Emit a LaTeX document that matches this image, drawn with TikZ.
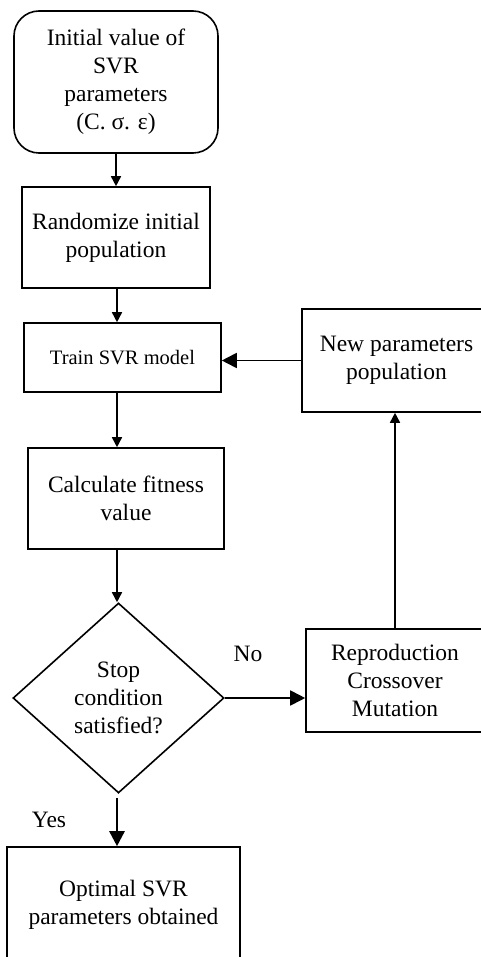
\documentclass[tikz,border=0pt]{standalone}
\usepackage{fontspec}
\setmainfont{Liberation Serif}
\usetikzlibrary{arrows.meta,shapes.geometric}
\begin{document}
\begin{tikzpicture}[x=1pt,y=-1pt,
  box/.style={draw,line width=1.6pt,inner sep=0pt,align=center,
    font=\fontsize{23.5}{28}\selectfont},
  smallarr/.style={line width=1.6pt,-{Triangle[length=10pt,width=10pt]}},
  bigarr/.style={line width=1.8pt,-{Triangle[length=15pt,width=15pt]}},
  lbl/.style={inner sep=0pt,font=\fontsize{23.5}{28}\selectfont}]
\useasboundingbox[fill=white] (0,0) rectangle (481,957);
\node[box,rounded corners=25pt,minimum width=204pt,minimum height=142pt] (init) at (116,82)
  {Initial value of\\SVR\\parameters\\(C. σ. ε)};
\node[box,minimum width=188pt,minimum height=101pt] (rand) at (116,237.5)
  {Randomize initial\\population};
\node[box,minimum width=197pt,minimum height=69pt,font=\fontsize{20.5}{24}\selectfont] (train) at (122.5,357.5)
  {Train SVR model};
\node[box,minimum width=189pt,minimum height=103pt] (newp) at (396.5,360.5)
  {New parameters\\population};
\node[box,minimum width=196pt,minimum height=101pt] (calc) at (126,498.5)
  {Calculate fitness\\value};
\node[box,diamond,aspect=1.11,minimum width=211pt,minimum height=190pt] (dia) at (118.5,698)
  {Stop\\condition\\satisfied?};
\node[box,minimum width=178pt,minimum height=103pt] (repro) at (395,680.5)
  {Reproduction\\Crossover\\Mutation};
\node[box,minimum width=233pt,minimum height=116pt] (opt) at (123.5,905)
  {Optimal SVR\\parameters obtained};
\node[lbl] (no) at (248,654) {No};
\node[lbl] (yes) at (49,820) {Yes};
\coordinate (xa) at (117,0);
\draw[smallarr] (init.south) -- (init.south |- rand.north);
\draw[smallarr] (rand.south -| xa) -- (train.north -| xa);
\draw[smallarr] (train.south -| xa) -- (calc.north -| xa);
\draw[smallarr] (calc.south -| xa) -- (dia.north -| xa);
\draw[bigarr] (newp.west) -- (newp.west -| train.east);
\draw[bigarr] (dia.east) -- (dia.east -| repro.west);
\draw[smallarr] (repro.north) -- (repro.north |- newp.south);
\draw[line width=2.6pt,-{Triangle[length=15pt,width=15pt]},shorten <=4pt] (dia.south -| xa) -- (opt.north -| xa);
\end{tikzpicture}
\end{document}
